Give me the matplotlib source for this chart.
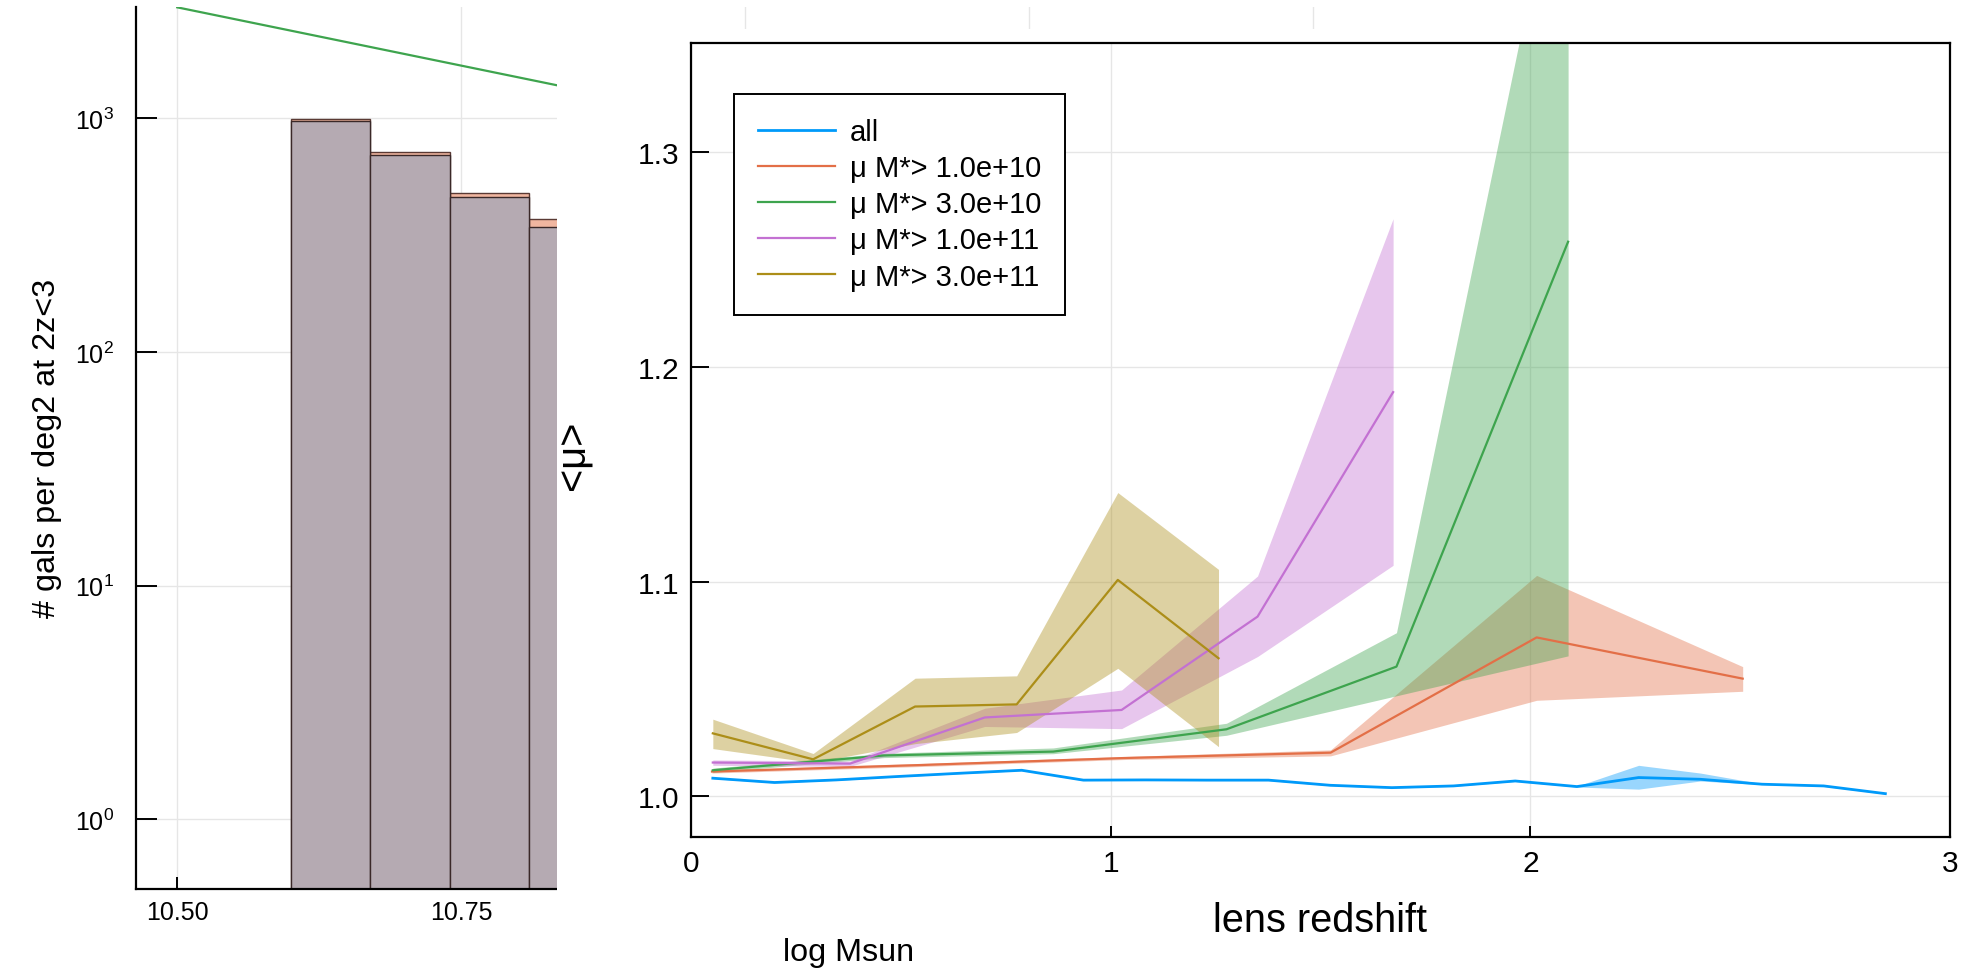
import matplotlib
matplotlib.use("Agg")
import matplotlib.pyplot as plt
from matplotlib.patches import Rectangle
from matplotlib.ticker import FixedLocator, FormatStrFormatter, NullLocator

plt.rcParams['font.family'] = ['Liberation Sans', 'DejaVu Sans']

# ---- left panel: number counts vs stellar mass ----
mass_edges = [10.60, 10.67, 10.74, 10.81, 10.88]
counts_orange = [990, 713, 478, 370]
counts_grey = [974, 694, 462, 343]
model_mass = [10.50, 11.00]
model_counts = [2980, 945]

# ---- right panel: mean magnification vs lens redshift ----
z_all = [0.052, 0.199, 0.346, 0.493, 0.640, 0.788, 0.935, 1.082, 1.229, 1.376,
         1.523, 1.670, 1.817, 1.964, 2.111, 2.258, 2.405, 2.552, 2.699, 2.846]
mu_all = [1.0084, 1.0064, 1.0076, 1.0092, 1.0107, 1.0121, 1.0075, 1.0076, 1.0075, 1.0075,
          1.0051, 1.0040, 1.0048, 1.0071, 1.0045, 1.0087, 1.0079, 1.0056, 1.0048, 1.0012]
lo_all = [1.0082, 1.0062, 1.0074, 1.0090, 1.0105, 1.0119, 1.0073, 1.0074, 1.0073, 1.0073,
          1.0049, 1.0038, 1.0046, 1.0069, 1.0043, 1.0033, 1.0071, 1.0054, 1.0046, 1.0010]
hi_all = [1.0086, 1.0066, 1.0078, 1.0094, 1.0109, 1.0123, 1.0077, 1.0078, 1.0077, 1.0077,
          1.0053, 1.0042, 1.0050, 1.0073, 1.0047, 1.0144, 1.0108, 1.0058, 1.0050, 1.0014]

z_1e10 = [0.050, 0.541, 1.032, 1.524, 2.015, 2.506]
mu_1e10 = [1.0115, 1.0145, 1.0178, 1.0203, 1.0740, 1.0548]
lo_1e10 = [1.0108, 1.0138, 1.0171, 1.0188, 1.0447, 1.0489]
hi_1e10 = [1.0122, 1.0152, 1.0185, 1.0216, 1.1029, 1.0604]

z_3e10 = [0.052, 0.460, 0.863, 1.276, 1.681, 2.090]
mu_3e10 = [1.0121, 1.0190, 1.0208, 1.0312, 1.0604, 1.2584]
lo_3e10 = [1.0111, 1.0180, 1.0198, 1.0284, 1.0468, 1.0654]
hi_3e10 = [1.0131, 1.0200, 1.0225, 1.0340, 1.0762, 1.4610]

z_1e11 = [0.052, 0.379, 0.700, 1.026, 1.350, 1.673]
mu_1e11 = [1.0157, 1.0152, 1.0367, 1.0402, 1.0837, 1.1883]
lo_1e11 = [1.0144, 1.0139, 1.0325, 1.0315, 1.0651, 1.1076]
hi_1e11 = [1.0169, 1.0164, 1.0410, 1.0495, 1.1026, 1.2691]

z_3e11 = [0.052, 0.291, 0.534, 0.776, 1.017, 1.257]
mu_3e11 = [1.0293, 1.0172, 1.0418, 1.0428, 1.1008, 1.0643]
lo_3e11 = [1.0222, 1.0157, 1.0245, 1.0297, 1.0596, 1.0231]
hi_3e11 = [1.0359, 1.0199, 1.0550, 1.0561, 1.1415, 1.1057]

labels = ["all", "μ M*> 1.0e+10", "μ M*> 3.0e+10", "μ M*> 1.0e+11", "μ M*> 3.0e+11"]
colors = ["#009AFA", "#E36F47", "#3EA44E", "#C371D2", "#AC8E18"]

W, H = 1978, 970
fig = plt.figure(figsize=(W / 100, H / 100), dpi=100)

# left axes (partly hidden behind the right subplot)
ax1 = fig.add_axes([136 / W, (H - 890) / H, (1562 - 136) / W, (890 - 8) / H], zorder=0)
widths = [mass_edges[i + 1] - mass_edges[i] for i in range(len(counts_grey))]
ax1.bar(mass_edges[:-1], counts_orange, width=widths, align='edge',
        color='#F0B6A0', edgecolor='#5a3a34', linewidth=1.0)
ax1.bar(mass_edges[:-1], counts_grey, width=widths, align='edge',
        color='#B5AAB2', edgecolor='#3a2828', linewidth=1.0)
ax1.plot(model_mass, model_counts, color='#3EA44E', lw=1.6)
ax1.set_yscale('log')
ax1.set_xlim(10.4637, 11.719)
ax1.set_ylim(0.503, 2990)
# labelled ticks only where visible; the rest only show as grid lines
ax1.xaxis.set_major_locator(FixedLocator([10.50, 10.75]))
ax1.xaxis.set_minor_locator(FixedLocator([11.00, 11.25, 11.50]))
ax1.xaxis.set_major_formatter(FormatStrFormatter('%.2f'))
ax1.yaxis.set_minor_locator(NullLocator())
ax1.spines['top'].set_visible(False)
ax1.spines['right'].set_visible(False)
for s in ('left', 'bottom'):
    ax1.spines[s].set_linewidth(1.6)
ax1.grid(True, which='both', color='#e6e6e6', lw=1.0)
ax1.set_axisbelow(True)
ax1.tick_params(axis='y', direction='in', length=15, width=1.4, labelsize=18, pad=16)
ax1.tick_params(axis='x', direction='in', length=8.5, width=1.4, labelsize=18, pad=8)
ax1.tick_params(axis='x', which='minor', length=0)
ax1.set_xlabel("log Msun", fontsize=23.3)
ax1.xaxis.set_label_coords(849 / W, (H - 961) / H, transform=fig.transFigure)
ax1.xaxis.label.set_verticalalignment('baseline')
ax1.set_ylabel("# gals per deg2 at 2z<3", fontsize=23.3)
ax1.yaxis.set_label_coords(55 / W, (H - 448) / H, transform=fig.transFigure)
ax1.yaxis.label.set_verticalalignment('baseline')

# white background of the second subplot
fig.add_artist(Rectangle((557 / W, (H - 936) / H), 1 - 557 / W, (936 - 30) / H,
                         transform=fig.transFigure, facecolor='white',
                         edgecolor='none', zorder=0.5))

# right axes
ax2 = fig.add_axes([691 / W, (H - 838) / H, (1950 - 691) / W, (838 - 44) / H], zorder=1)
series = [
    (z_all, mu_all, lo_all, hi_all, 2.0),
    (z_1e10, mu_1e10, lo_1e10, hi_1e10, 1.6),
    (z_3e10, mu_3e10, lo_3e10, hi_3e10, 1.6),
    (z_1e11, mu_1e11, lo_1e11, hi_1e11, 1.6),
    (z_3e11, mu_3e11, lo_3e11, hi_3e11, 1.6),
]
for (z, mu, lo, hi, lw), lab, c in zip(series, labels, colors):
    ax2.fill_between(z, lo, hi, color=c, alpha=0.4, linewidth=0)
    ax2.plot(z, mu, color=c, lw=lw, label=lab)

ax2.set_xlim(0, 3)
ax2.set_ylim(0.981, 1.351)
ax2.set_xticks([0, 1, 2, 3])
ax2.set_yticks([1.0, 1.1, 1.2, 1.3])
ax2.yaxis.set_major_formatter(FormatStrFormatter('%.1f'))
for s in ax2.spines.values():
    s.set_linewidth(1.6)
ax2.grid(True, color='#e6e6e6', lw=1.0)
ax2.set_axisbelow(True)
ax2.tick_params(axis='y', direction='in', length=13, width=1.4, labelsize=21.5, pad=8.6)
ax2.tick_params(axis='x', direction='in', length=7.7, width=1.4, labelsize=21.5, pad=8.5)
ax2.set_xlabel("lens redshift", fontsize=28.6)
ax2.xaxis.set_label_coords(1320 / W, (H - 932) / H, transform=fig.transFigure)
ax2.xaxis.label.set_verticalalignment('baseline')
ax2.set_ylabel("<μ>", fontsize=28.6)
ax2.yaxis.set_label_coords(585 / W, (H - 455) / H, transform=fig.transFigure)
ax2.yaxis.label.set_verticalalignment('baseline')

leg = ax2.legend(loc='upper left', bbox_to_anchor=((734 - 691) / 1259, (838 - 95) / 794),
                 borderaxespad=0, fontsize=21, frameon=True, fancybox=False,
                 framealpha=1, edgecolor='black', handlelength=2.65,
                 handletextpad=0.5, borderpad=0.82, labelspacing=0.28)
leg.get_frame().set_linewidth(1.4)

fig.savefig("out.png", dpi=100)
